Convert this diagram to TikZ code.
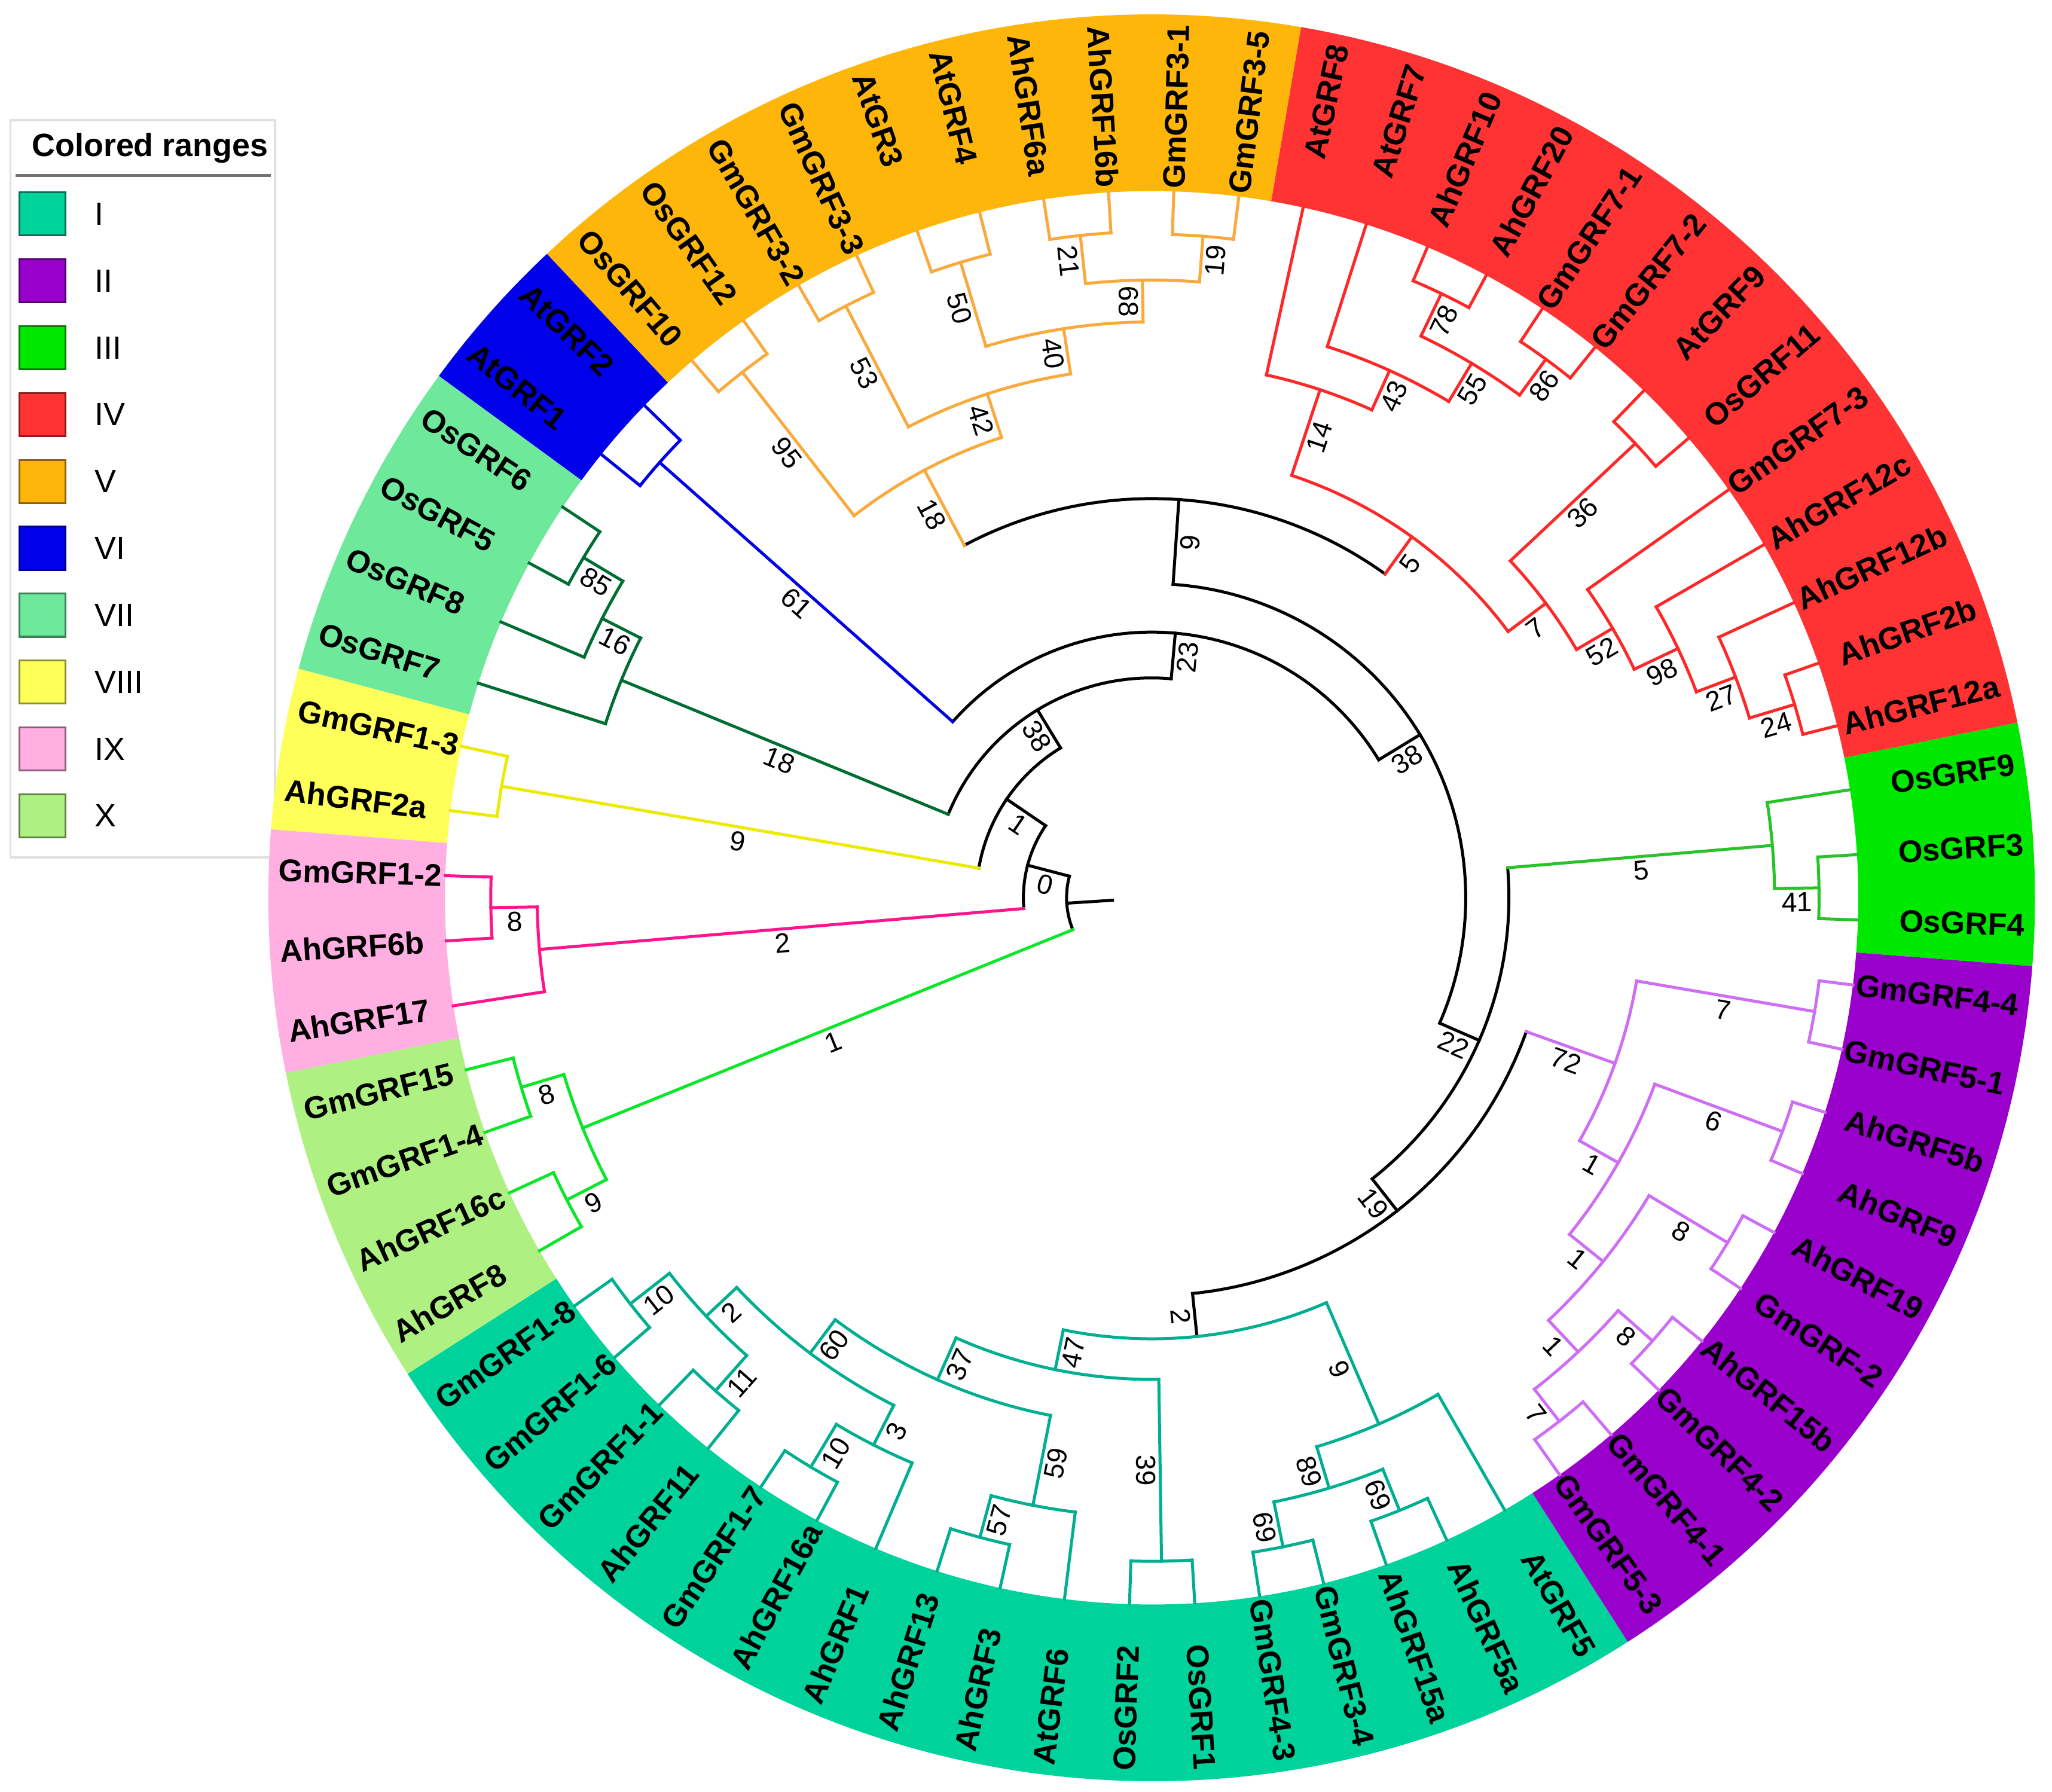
\documentclass[tikz,border=0pt]{standalone}
\usepackage{fontspec}
\setmainfont{Liberation Sans}
\definecolor{fI}{RGB}{0,210,155}
\definecolor{fII}{RGB}{153,0,204}
\definecolor{fIII}{RGB}{0,232,0}
\definecolor{fIV}{RGB}{255,51,51}
\definecolor{fV}{RGB}{255,182,10}
\definecolor{fVI}{RGB}{0,0,235}
\definecolor{fVII}{RGB}{110,232,155}
\definecolor{fVIII}{RGB}{255,255,90}
\definecolor{fIX}{RGB}{255,175,225}
\definecolor{fX}{RGB}{175,240,130}
\definecolor{bI}{RGB}{0,175,145}
\definecolor{bII}{RGB}{205,110,245}
\definecolor{bIII}{RGB}{40,195,40}
\definecolor{bIV}{RGB}{255,40,40}
\definecolor{bV}{RGB}{250,170,60}
\definecolor{bVI}{RGB}{0,0,230}
\definecolor{bVII}{RGB}{0,110,50}
\definecolor{bVIII}{RGB}{235,235,0}
\definecolor{bIX}{RGB}{255,20,140}
\definecolor{bX}{RGB}{10,230,40}
\tikzset{
  br/.style={line width=0.65pt, line cap=rect},
  bl/.style={font=\fontsize{6}{7}\selectfont, inner sep=0.8pt},
  lf/.style={font=\fontsize{6.8}{8}\selectfont\bfseries, inner sep=0pt},
}
\newcommand\Ang[1]{(3.5+5.29412*(#1))}
\newcommand\arcn[4]{\draw[br,#1] ({\Ang{#2}}:#4) arc[start angle={\Ang{#2}}, end angle={\Ang{#3}}, radius=#4];}
\newcommand\brn[4]{\draw[br,#1] ({\Ang{#2}}:#3) -- ({\Ang{#2}}:#4);}
\newcounter{bcnt}
\newcommand\blab[3]{\stepcounter{bcnt}%
  \pgfmathsetmacro\myth{\Ang{#1}}%
  \pgfmathtruncatemacro\myflip{cos(\myth)<0}%
  \ifnum\myflip=1 \pgfmathsetmacro\myrh{\myth-180}\else\let\myrh\myth\fi
  \node[bl, rotate=\myrh, anchor=north] (b\arabic{bcnt}) at (\myth:#2) {#3};}
\newcommand\leaf[2]{%
  \pgfmathsetmacro\myth{\Ang{#1}}%
  \pgfmathtruncatemacro\myflip{cos(\myth)<0}%
  \ifnum\myflip=1 \pgfmathsetmacro\myrh{\myth-180}%
    \node[lf, rotate=\myrh, anchor=west] (L#1) at (\myth:6.68) {#2};%
  \else
    \node[lf, rotate=\myth, anchor=east] (L#1) at (\myth:6.68) {#2};%
  \fi}
\newcommand\ring[3]{\fill[#1] ({\Ang{#2}}:5.40) arc[start angle={\Ang{#2}}, end angle={\Ang{#3}}, radius=5.40] -- ({\Ang{#3}}:6.75) arc[start angle={\Ang{#3}}, end angle={\Ang{#2}}, radius=6.75] -- cycle;}
\begin{document}
\begin{tikzpicture}
\useasboundingbox (0,0) rectangle (15.68,13.69);
% legend
\draw[black!12, line width=0.5pt] (0.08,7.14) rectangle (2.10,12.77);
\node[anchor=west, font=\fontsize{7}{8}\selectfont\bfseries] (lgt) at (0.12,12.56) {Colored ranges};
\draw[black!55, line width=0.6pt] (0.12,12.35) -- (2.07,12.35);
\foreach \c/\n [count=\k from 0] in {fI/I, fII/II, fIII/III, fIV/IV, fV/V, fVI/VI, fVII/VII, fVIII/VIII, fIX/IX, fX/X} {
  \pgfmathsetmacro\yt{13.69-1.47-0.511*\k}
  \pgfmathsetmacro\yb{\yt-0.33}
  \pgfmathsetmacro\ym{\yt-0.165}
  \draw[fill=\c, draw=\c!55!black, line width=0.4pt] (0.15,\yt) rectangle (0.50,\yb);
  \node[anchor=west, font=\fontsize{7}{8}\selectfont] (lg\k) at (0.60,\ym) {\n};
}
\begin{scope}[shift={(8.80,6.83)}]
% colored ranges
\ring{fIII}{-1.5}{1.5}
\ring{fIV}{1.5}{14.5}
\ring{fV}{14.5}{24.5}
\ring{fVI}{24.5}{26.5}
\ring{fVII}{26.5}{30.5}
\ring{fVIII}{30.5}{32.5}
\ring{fIX}{32.5}{35.5}
\ring{fX}{35.5}{39.5}
\ring{fI}{39.5}{56.5}
\ring{fII}{56.5}{66.5}
% backbone
\brn{black}{34.03}{0.30}{0.65}
\arcn{black}{30.5625}{37.5}{0.65}
\brn{bX}{37.5}{0.65}{4.69} \blab{37.5}{2.67}{1}
\brn{black}{30.5625}{0.65}{0.98} \blab{30.5625}{0.815}{0}
\arcn{black}{26.875}{34.25}{0.98}
\brn{bIX}{34.25}{0.98}{4.695} \blab{34.25}{2.84}{2}
\brn{black}{26.875}{0.98}{1.34} \blab{26.875}{1.16}{1}
\arcn{black}{22.25}{31.5}{1.34}
\brn{bVIII}{31.5}{1.34}{5.04} \blab{31.5}{3.19}{9}
\brn{black}{22.25}{1.34}{1.68} \blab{22.25}{1.51}{38}
\arcn{black}{15.374}{29.125}{1.68}
\brn{bVII}{29.125}{1.68}{4.38} \blab{29.125}{3.03}{18}
\brn{black}{15.374}{1.68}{2.03} \blab{15.374}{1.855}{23}
\arcn{black}{5.248}{25.5}{2.03}
\brn{bVI}{25.5}{2.03}{5.02} \blab{25.5}{3.525}{61}
\brn{black}{5.248}{2.03}{2.40} \blab{5.248}{2.215}{38}
\arcn{black}{-5.105}{15.60}{2.40}
\brn{black}{15.60}{2.40}{3.05} \blab{15.60}{2.725}{9}
\brn{black}{-5.105}{2.40}{2.73} \blab{-5.105}{2.565}{22}
\arcn{black}{9.578}{21.625}{3.05}
\brn{bV}{21.625}{3.05}{3.70} \blab{21.625}{3.375}{18}
\brn{bIV}{9.578}{3.05}{3.40} \blab{9.578}{3.225}{5}
\arcn{black}{-10.461}{0.25}{2.73}
\brn{bIII}{0.25}{2.73}{4.76} \blab{0.25}{3.745}{5}
\brn{black}{-10.461}{2.73}{3.04} \blab{-10.461}{2.885}{19}
\arcn{black}{51.453}{63.625}{3.04}
\brn{bII}{63.625}{3.04}{3.76} \blab{63.625}{3.40}{72}
\brn{black}{51.453}{3.04}{3.37} \blab{51.453}{3.205}{2}
% clade III
\arcn{bIII}{-0.5}{1}{4.76}
\brn{bIII}{-0.5}{4.76}{5.10} \blab{-0.5}{4.93}{41}
\arcn{bIII}{-1}{0}{5.10}
\foreach \i/\r in {0/5.10,-1/5.10,1/4.76} {\brn{bIII}{\i}{\r}{5.40}}
% clade IV
\arcn{bIV}{6.281}{12.875}{3.40}
\brn{bIV}{12.875}{3.40}{4.09} \blab{12.875}{3.745}{14}
\brn{bIV}{6.281}{3.40}{3.76} \blab{6.281}{3.58}{7}
\arcn{bIV}{11.75}{14}{4.09}
\brn{bIV}{11.75}{4.09}{4.42} \blab{11.75}{4.255}{43}
\arcn{bIV}{10.5}{13}{4.42}
\brn{bIV}{10.5}{4.42}{4.76} \blab{10.5}{4.59}{55}
\arcn{bIV}{9.5}{11.5}{4.76}
\brn{bIV}{11.5}{4.76}{5.12} \blab{11.5}{4.94}{78}
\brn{bIV}{9.5}{4.76}{5.10} \blab{9.5}{4.93}{86}
\arcn{bIV}{11}{12}{5.12}
\arcn{bIV}{9}{10}{5.10}
\arcn{bIV}{5.0625}{7.5}{3.76}
\brn{bIV}{7.5}{3.76}{5.07} \blab{7.5}{4.415}{36}
\brn{bIV}{5.0625}{3.76}{4.08} \blab{5.0625}{3.92}{52}
\arcn{bIV}{7}{8}{5.07}
\arcn{bIV}{4.125}{6}{4.08}
\brn{bIV}{4.125}{4.08}{4.45} \blab{4.125}{4.265}{98}
\arcn{bIV}{3.25}{5}{4.45}
\brn{bIV}{3.25}{4.45}{4.77} \blab{3.25}{4.61}{27}
\arcn{bIV}{2.5}{4}{4.77}
\brn{bIV}{2.5}{4.77}{5.13} \blab{2.5}{4.95}{24}
\arcn{bIV}{2}{3}{5.13}
\foreach \i/\r in {2/5.13,3/5.13,4/4.77,5/4.45,6/4.08,7/5.07,8/5.07,9/5.10,10/5.10,11/5.12,12/5.12,13/4.42,14/4.09} {\brn{bIV}{\i}{\r}{5.40}}
% clade V
\arcn{bV}{19.75}{23.5}{3.70}
\brn{bV}{23.5}{3.70}{5.09} \blab{23.5}{4.395}{95}
\brn{bV}{19.75}{3.70}{4.05} \blab{19.75}{3.875}{42}
\arcn{bV}{23}{24}{5.09}
\arcn{bV}{18}{21.5}{4.05}
\brn{bV}{21.5}{4.05}{5.09} \blab{21.5}{4.57}{53}
\brn{bV}{18}{4.05}{4.40} \blab{18}{4.225}{40}
\arcn{bV}{21}{22}{5.09}
\arcn{bV}{16.5}{19.5}{4.40}
\brn{bV}{19.5}{4.40}{5.07} \blab{19.5}{4.735}{50}
\brn{bV}{16.5}{4.40}{4.72} \blab{16.5}{4.56}{68}
\arcn{bV}{19}{20}{5.07}
\arcn{bV}{15.5}{17.5}{4.72}
\brn{bV}{15.5}{4.72}{5.07} \blab{15.5}{4.895}{19}
\brn{bV}{17.5}{4.72}{5.09} \blab{17.5}{4.905}{21}
\arcn{bV}{15}{16}{5.07}
\arcn{bV}{17}{18}{5.09}
\foreach \i/\r in {15/5.07,16/5.07,17/5.09,18/5.09,19/5.07,20/5.07,21/5.09,22/5.09,23/5.09,24/5.09} {\brn{bV}{\i}{\r}{5.40}}
% clade VI
\arcn{bVI}{25}{26}{5.02}
\foreach \i in {25,26} {\brn{bVI}{\i}{5.02}{5.40}}
% clade VII
\arcn{bVII}{28.25}{30}{4.38}
\brn{bVII}{28.25}{4.38}{4.71} \blab{28.25}{4.545}{16}
\arcn{bVII}{27.5}{29}{4.71}
\brn{bVII}{27.5}{4.71}{5.06} \blab{27.5}{4.885}{85}
\arcn{bVII}{27}{28}{5.06}
\foreach \i/\r in {27/5.06,28/5.06,29/4.71,30/4.38} {\brn{bVII}{\i}{\r}{5.40}}
% clade VIII
\arcn{bVIII}{31}{32}{5.04}
\foreach \i in {31,32} {\brn{bVIII}{\i}{5.04}{5.40}}
% clade IX
\arcn{bIX}{33.5}{35}{4.695}
\brn{bIX}{33.5}{4.695}{5.05} \blab{33.5}{4.87}{8}
\arcn{bIX}{33}{34}{5.05}
\foreach \i/\r in {33/5.05,34/5.05,35/4.695} {\brn{bIX}{\i}{\r}{5.40}}
% clade X
\arcn{bX}{36.5}{38.5}{4.69}
\brn{bX}{36.5}{4.69}{5.03} \blab{36.5}{4.86}{8}
\brn{bX}{38.5}{4.69}{5.03} \blab{38.5}{4.86}{9}
\arcn{bX}{36}{37}{5.03}
\arcn{bX}{38}{39}{5.03}
\foreach \i in {36,37,38,39} {\brn{bX}{\i}{5.03}{5.40}}
% clade I
\arcn{bI}{48.156}{54.75}{3.37}
\brn{bI}{48.156}{3.37}{3.68} \blab{48.156}{3.525}{47}
\brn{bI}{54.75}{3.37}{4.38} \blab{54.75}{3.875}{9}
\arcn{bI}{45.8125}{50.5}{3.68}
\brn{bI}{45.8125}{3.68}{4.03} \blab{45.8125}{3.855}{37}
\brn{bI}{50.5}{3.68}{5.07} \blab{50.5}{4.375}{39}
\arcn{bI}{50}{51}{5.07}
\arcn{bI}{43.375}{48.25}{4.03}
\brn{bI}{43.375}{4.03}{4.35} \blab{43.375}{4.19}{60}
\brn{bI}{48.25}{4.03}{4.73} \blab{48.25}{4.38}{59}
\arcn{bI}{47.5}{49}{4.73}
\brn{bI}{47.5}{4.73}{5.06} \blab{47.5}{4.895}{57}
\arcn{bI}{47}{48}{5.06}
\arcn{bI}{41.5}{45.25}{4.35}
\brn{bI}{41.5}{4.35}{4.67} \blab{41.5}{4.51}{2}
\brn{bI}{45.25}{4.35}{4.69} \blab{45.25}{4.52}{3}
\arcn{bI}{40.5}{42.5}{4.67}
\brn{bI}{40.5}{4.67}{5.05} \blab{40.5}{4.86}{10}
\brn{bI}{42.5}{4.67}{5.03} \blab{42.5}{4.85}{11}
\arcn{bI}{40}{41}{5.05}
\arcn{bI}{42}{43}{5.03}
\arcn{bI}{44.5}{46}{4.69}
\brn{bI}{44.5}{4.69}{5.07} \blab{44.5}{4.88}{10}
\arcn{bI}{44}{45}{5.07}
\arcn{bI}{53.5}{56}{4.38}
\brn{bI}{53.5}{4.38}{4.71} \blab{53.5}{4.545}{89}
\arcn{bI}{52.5}{54.5}{4.71}
\brn{bI}{52.5}{4.71}{5.06} \blab{52.5}{4.885}{69}
\brn{bI}{54.5}{4.71}{5.05} \blab{54.5}{4.88}{69}
\arcn{bI}{52}{53}{5.06}
\arcn{bI}{54}{55}{5.05}
\foreach \i/\r in {40/5.05,41/5.05,42/5.03,43/5.03,44/5.07,45/5.07,46/4.69,47/5.06,48/5.06,49/4.73,50/5.07,51/5.07,52/5.06,53/5.06,54/5.05,55/5.05,56/4.38} {\brn{bI}{\i}{\r}{5.40}}
% clade II
\arcn{bII}{61.75}{65.5}{3.76}
\brn{bII}{65.5}{3.76}{5.14} \blab{65.5}{4.45}{7}
\brn{bII}{61.75}{3.76}{4.10} \blab{61.75}{3.93}{1}
\arcn{bII}{65}{66}{5.14}
\arcn{bII}{60}{63.5}{4.10}
\brn{bII}{63.5}{4.10}{5.14} \blab{63.5}{4.62}{6}
\brn{bII}{60}{4.10}{4.43} \blab{60}{4.265}{1}
\arcn{bII}{63}{64}{5.14}
\arcn{bII}{58.5}{61.5}{4.43}
\brn{bII}{61.5}{4.43}{5.13} \blab{61.5}{4.78}{8}
\brn{bII}{58.5}{4.43}{4.76} \blab{58.5}{4.595}{1}
\arcn{bII}{61}{62}{5.13}
\arcn{bII}{57.5}{59.5}{4.76}
\brn{bII}{59.5}{4.76}{5.11} \blab{59.5}{4.935}{8}
\brn{bII}{57.5}{4.76}{5.07} \blab{57.5}{4.915}{7}
\arcn{bII}{59}{60}{5.11}
\arcn{bII}{57}{58}{5.07}
\foreach \i/\r in {57/5.07,58/5.07,59/5.11,60/5.11,61/5.13,62/5.13,63/5.14,64/5.14,65/5.14,66/5.14} {\brn{bII}{\i}{\r}{5.40}}
% leaf labels
\foreach \i/\nm in {0/OsGRF3,1/OsGRF9,2/AhGRF12a,3/AhGRF2b,4/AhGRF12b,5/AhGRF12c,6/GmGRF7-3,7/OsGRF11,8/AtGRF9,9/GmGRF7-2,10/GmGRF7-1,11/AhGRF20,12/AhGRF10,13/AtGRF7,14/AtGRF8,15/GmGRF3-5,16/GmGRF3-1,17/AhGRF16b,18/AhGRF6a,19/AtGRF4,20/AtGR3,21/GmGRF3-3,22/GmGRF3-2,23/OsGRF12,24/OsGRF10,25/AtGRF2,26/AtGRF1,27/OsGRF6,28/OsGRF5,29/OsGRF8,30/OsGRF7,31/GmGRF1-3,32/AhGRF2a,33/GmGRF1-2,34/AhGRF6b,35/AhGRF17,36/GmGRF15,37/GmGRF1-4,38/AhGRF16c,39/AhGRF8,40/GmGRF1-8,41/GmGRF1-6,42/GmGRF1-1,43/AhGRF11,44/GmGRF1-7,45/AhGRF16a,46/AhGRF1,47/AhGRF13,48/AhGRF3,49/AtGRF6,50/OsGRF2,51/OsGRF1,52/GmGRF4-3,53/GmGRF3-4,54/AhGRF15a,55/AhGRF5a,56/AtGRF5,57/GmGRF5-3,58/GmGRF4-1,59/GmGRF4-2,60/AhGRF15b,61/GmGRF-2,62/AhGRF19,63/AhGRF9,64/AhGRF5b,65/GmGRF5-1,66/GmGRF4-4,67/OsGRF4} {\leaf{\i}{\nm}}
\end{scope}
\end{tikzpicture}
\end{document}
